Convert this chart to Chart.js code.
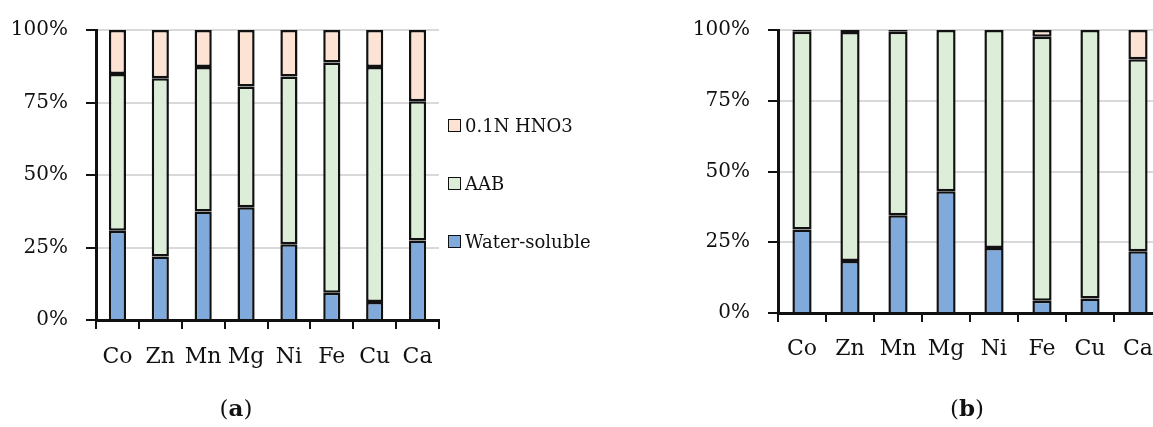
<!DOCTYPE html>
<html>
<head>
<meta charset="utf-8">
<script src="https://cdn.jsdelivr.net/npm/chart.js@4.4.1/dist/chart.umd.min.js"></script>
<style>
  html, body { margin: 0; padding: 0; background: #fff; overflow: hidden; width: 1153px; height: 427px; }
  .wrap { position: absolute; top: 0; height: 427px; }
  #wrapA { left: 0; width: 460px; }
  #wrapB { left: 680px; width: 492px; }
  .caption { position: absolute; top: 394px; font-family: "DejaVu Serif", serif; font-size: 23px; color: #111; transform: translateX(-50%); }
  .legend { position: absolute; left: 448px; top: 0; font-family: "DejaVu Serif", serif; font-size: 18px; color: #111; }
  .legend div { position: absolute; white-space: nowrap; display: flex; align-items: center; }
  .legend span.box { display: inline-block; width: 11px; height: 11px; border: 1.5px solid #111; margin-right: 4px; }
</style>
</head>
<body>
<div id="wrapA" class="wrap"><canvas id="chartA" width="460" height="427"></canvas></div>
<div id="wrapB" class="wrap"><canvas id="chartB" width="492" height="427"></canvas></div>
<div class="legend" id="legend"></div>
<div class="caption" style="left:236px">(<b>a</b>)</div>
<div class="caption" style="left:967px">(<b>b</b>)</div>
<script>
// Metal fractions (%)
const elements = ['Co', 'Zn', 'Mn', 'Mg', 'Ni', 'Fe', 'Cu', 'Ca'];
const yTicks = [0, 25, 50, 75, 100];

// (a)
const waterA = [30.8, 21.9, 37.4, 38.9, 26.1, 9.4, 6.2, 27.4];
const aabA   = [54.0, 61.5, 49.8, 41.6, 57.9, 79.4, 81.0, 48.0];
const hno3A  = [15.2, 16.6, 12.8, 19.5, 16.0, 11.2, 12.8, 24.6];

// (b)
const waterB = [29.5, 18.4, 34.5, 43.0, 23.0, 4.3, 5.1, 21.8];
const aabB   = [69.9, 80.9, 64.9, 57.0, 77.0, 93.3, 94.9, 67.9];
const hno3B  = [0.6, 0.7, 0.6, 0.0, 0.0, 2.4, 0.0, 10.3];

const seriesNames = ['Water-soluble', 'AAB', '0.1N HNO3'];
const seriesColors = ['#80AADC', '#DCEED8', '#FDE3D4'];

const FONT = '"DejaVu Serif", serif';

const makeChart = (canvasId, data, axisLeft, top, bottom, rightPad, labelPad) => {
    const ctx = document.getElementById(canvasId);
    const canvasH = 427;
    const xAxisH = 64;
    return new Chart(ctx, {
        type: 'bar',
        data: {
            labels: elements,
            datasets: data.map((vals, i) => ({
                label: seriesNames[i],
                data: vals,
                backgroundColor: seriesColors[i],
                borderColor: '#111',
                // empty segments get no outline
                borderWidth: c => (c.raw > 0 ? 2.5 : 0),
                borderSkipped: i === 0 ? 'start' : false,
                barPercentage: 0.4,
                categoryPercentage: 1
            }))
        },
        options: {
            responsive: false,
            animation: false,
            layout: { padding: { left: 0, right: rightPad, top: top, bottom: canvasH - bottom - xAxisH } },
            plugins: { legend: { display: false }, tooltip: { enabled: false } },
            scales: {
                x: {
                    stacked: true,
                    afterFit: s => { s.height = xAxisH; },
                    border: { color: '#111', width: 3 },
                    grid: { display: true, drawOnChartArea: false, color: '#111', lineWidth: 2, tickLength: 9, offset: true },
                    ticks: { color: '#111', padding: labelPad, font: { family: FONT, size: 22 } }
                },
                y: {
                    stacked: true,
                    min: 0,
                    max: 100,
                    afterFit: s => { s.width = axisLeft; },
                    afterBuildTicks: s => { s.ticks = yTicks.map(v => ({ value: v })); },
                    border: { color: '#111', width: 3 },
                    grid: {
                        color: '#D9D9D9',
                        lineWidth: 2,
                        tickLength: 10,
                        tickColor: '#111'
                    },
                    ticks: {
                        color: '#111',
                        padding: 18,
                        font: { family: FONT, size: 20 },
                        callback: v => v + '%'
                    }
                }
            }
        }
    });
};

makeChart('chartA', [waterA, aabA, hno3A], 96, 26, 320, 21, 15);
makeChart('chartB', [waterB, aabB, hno3B], 98, 28, 313, 10, 14);

// legend for (a), top item first
const legendTops = [242, 184, 126];
const legend = document.getElementById('legend');
seriesNames.forEach((name, i) => {
    const d = document.createElement('div');
    d.style.top = (legendTops[i] - 11) + 'px';
    d.innerHTML = '<span class="box" style="background:' + seriesColors[i] + '"></span>' + name;
    legend.appendChild(d);
});
</script>
</body>
</html>
